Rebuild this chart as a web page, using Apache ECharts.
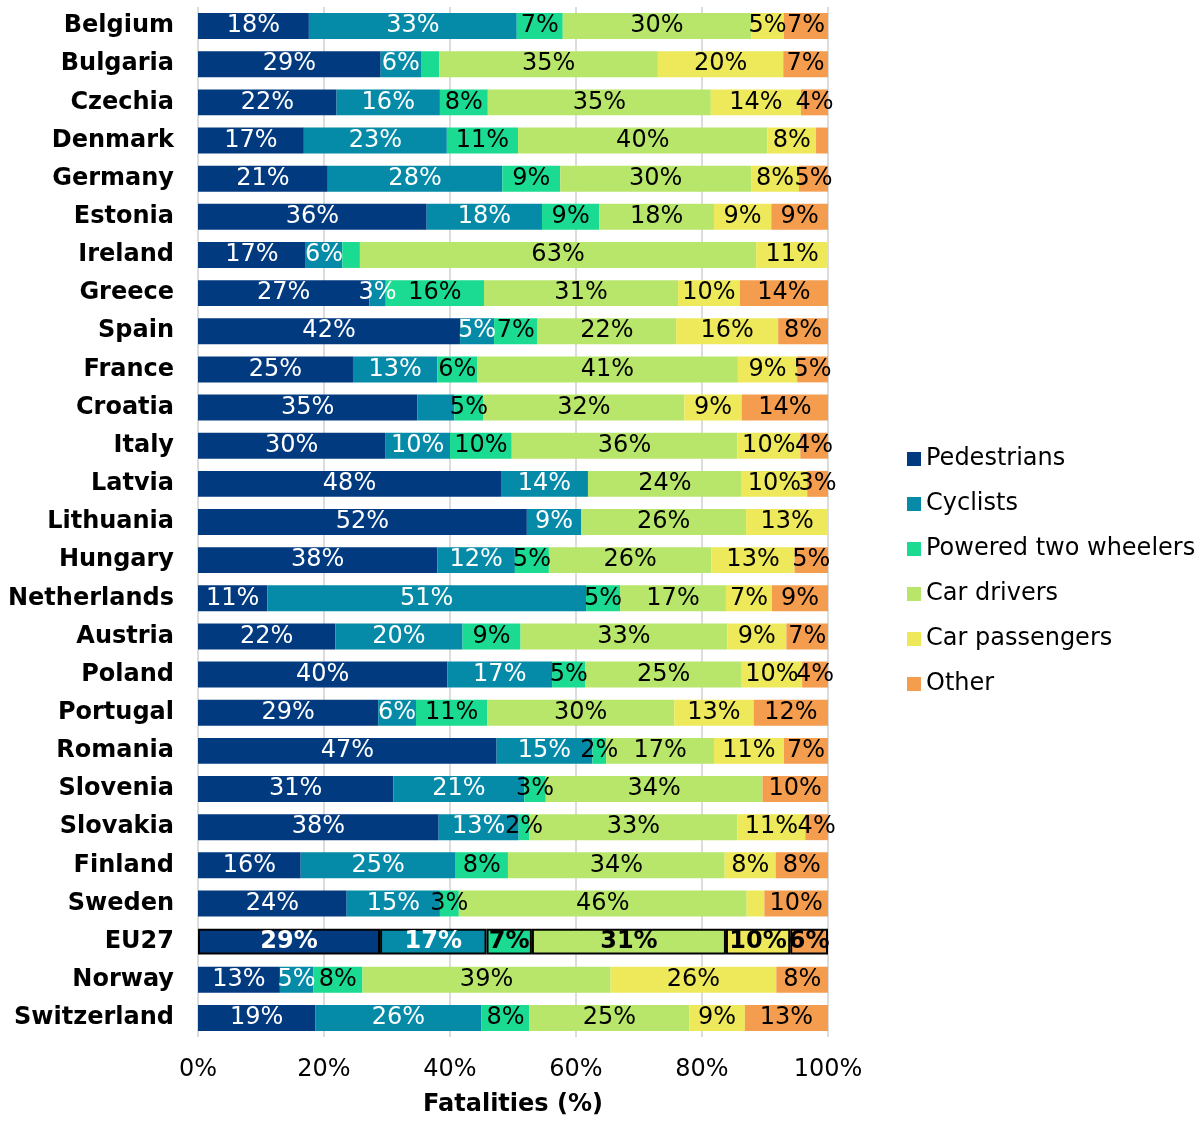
<!DOCTYPE html>
<html>
<head>
<meta charset="utf-8">
<title>Fatalities by road user</title>
<script src="https://cdn.jsdelivr.net/npm/echarts@6/dist/echarts.min.js"></script>
<style>
  html, body { margin: 0; padding: 0; background: #fff; }
  #chart { width: 1203px; height: 1122px; }
</style>
</head>
<body>
<div id="chart"></div>
<script>
// countries, top to bottom
const countries = ['Belgium', 'Bulgaria', 'Czechia', 'Denmark', 'Germany', 'Estonia', 'Ireland', 'Greece', 'Spain', 'France',
  'Croatia', 'Italy', 'Latvia', 'Lithuania', 'Hungary', 'Netherlands', 'Austria', 'Poland', 'Portugal', 'Romania',
  'Slovenia', 'Slovakia', 'Finland', 'Sweden', 'EU27', 'Norway', 'Switzerland']

// share of fatalities (%) per road user group
const pedestrians = [17.6, 29.0, 22.0, 16.8, 20.6, 36.3, 17.1, 27.2, 41.6, 24.6, 34.8, 29.7, 48.1, 52.2, 38.0, 11.0, 21.8, 39.6, 28.6, 47.4, 31.0, 38.2, 16.3, 23.6, 28.9, 13.0, 18.6]
const cyclists = [33.0, 6.4, 16.4, 22.7, 27.7, 18.3, 5.8, 2.6, 5.4, 13.4, 5.9, 10.3, 13.8, 8.6, 12.3, 50.6, 20.2, 16.6, 6.0, 15.2, 20.8, 12.7, 24.6, 14.8, 16.9, 5.3, 26.4]
const poweredTwoWheelers = [7.3, 2.9, 7.6, 11.3, 9.2, 9.1, 2.8, 15.6, 6.9, 6.3, 4.6, 9.8, 0, 0, 5.4, 5.4, 9.2, 5.3, 11.3, 2.2, 3.4, 1.7, 8.3, 3.0, 7.2, 7.8, 7.6]
const carDrivers = [29.9, 34.7, 35.4, 39.6, 30.3, 18.2, 62.9, 30.8, 22.0, 41.4, 31.9, 35.8, 24.4, 26.2, 25.8, 16.8, 32.8, 24.8, 29.7, 17.1, 34.4, 33.0, 34.4, 45.7, 30.8, 39.4, 25.4]
const carPassengers = [5.2, 19.9, 14.3, 7.7, 7.6, 9.1, 11.4, 9.8, 16.2, 9.4, 9.1, 10.0, 10.4, 13.0, 13.2, 7.3, 9.4, 9.6, 12.6, 11.1, 0, 10.8, 8.1, 2.8, 10.2, 26.3, 8.8]
const other = [7.0, 7.1, 4.3, 1.9, 4.6, 9.0, 0, 14.0, 7.9, 4.9, 13.7, 4.4, 3.3, 0, 5.3, 8.9, 6.6, 4.1, 11.8, 7.0, 10.4, 3.6, 8.3, 10.1, 6.0, 8.2, 13.2]

const xTicks = [0, 20, 40, 60, 80, 100]

// segments whose value label is left out in the original
const unlabelled = [['Bulgaria', 'Powered two wheelers'], ['Denmark', 'Other'], ['Ireland', 'Powered two wheelers'],
  ['Croatia', 'Cyclists'], ['Sweden', 'Car passengers']]

const groups = [
  { name: 'Pedestrians', data: pedestrians, color: '#023a80', text: '#fff' },
  { name: 'Cyclists', data: cyclists, color: '#058ba8', text: '#fff' },
  { name: 'Powered two wheelers', data: poweredTwoWheelers, color: '#1adb91', text: '#000' },
  { name: 'Car drivers', data: carDrivers, color: '#b8e66a', text: '#000' },
  { name: 'Car passengers', data: carPassengers, color: '#eee95a', text: '#000' },
  { name: 'Other', data: other, color: '#f49d4e', text: '#000' }
]

const FONT = 'Verdana, "DejaVu Sans", sans-serif'
const SIZE = 24

const chart = echarts.init(document.getElementById('chart'))

const series = groups.map((g) => ({
  name: g.name,
  type: 'bar',
  stack: 'total',
  barCategoryGap: '32%',
  itemStyle: { color: g.color },
  label: {
    show: true,
    position: 'inside',
    color: g.text,
    fontFamily: FONT,
    fontSize: SIZE,
    formatter: (p) => Math.round(p.value) + '%'
  },
  data: g.data.map((v, i) => {
    const c = countries[i]
    const hidden = v === 0 || unlabelled.some((u) => u[0] === c && u[1] === g.name)
    const item = { value: v }
    if (hidden) item.label = { show: false }
    if (c === 'EU27') {
      item.itemStyle = { borderColor: '#000', borderWidth: 2 }
      if (!hidden) item.label = { fontWeight: 'bold' }
    }
    return item
  })
}))

chart.setOption({
  animation: false,
  textStyle: { fontFamily: FONT },
  grid: { left: 198, right: 375, top: 7, bottom: 82 },
  legend: {
    orient: 'vertical',
    left: 902,
    top: 442,
    itemWidth: 14,
    itemHeight: 14,
    itemGap: 21,
    icon: 'rect',
    textStyle: { fontFamily: FONT, fontSize: SIZE, color: '#000', lineHeight: 24 },
    data: groups.map((g) => g.name)
  },
  xAxis: {
    type: 'value',
    min: xTicks[0],
    max: xTicks[xTicks.length - 1],
    interval: xTicks[1] - xTicks[0],
    name: 'Fatalities (%)',
    nameLocation: 'middle',
    nameGap: 56,
    nameTextStyle: { fontFamily: FONT, fontSize: SIZE, fontWeight: 'bold', color: '#000' },
    axisLine: { show: false },
    axisTick: { show: false },
    axisLabel: { fontFamily: FONT, fontSize: SIZE, color: '#000', margin: 21, formatter: '{value}%' },
    splitLine: { lineStyle: { color: '#dcdcdc', width: 2 } }
  },
  yAxis: {
    type: 'category',
    inverse: true,
    data: countries,
    axisLine: { show: false },
    axisTick: { show: false },
    axisLabel: { fontFamily: FONT, fontSize: SIZE, fontWeight: 'bold', color: '#000', margin: 24 }
  },
  series
})
</script>
</body>
</html>
